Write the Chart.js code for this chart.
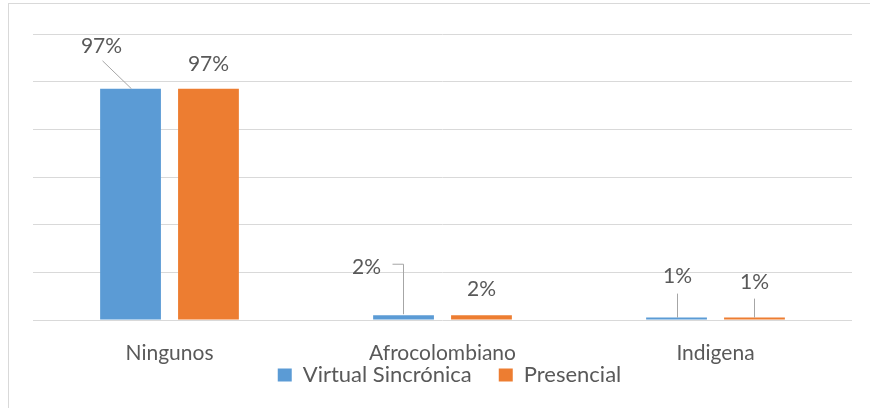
<!DOCTYPE html>
<html>
<head>
<meta charset="utf-8">
<script src="https://cdn.jsdelivr.net/npm/chart.js@4.4.0/dist/chart.umd.min.js"></script>
<style>
  body { margin: 0; background: #fff; }
  #wrap { position: relative; width: 870px; height: 408px; overflow: hidden; }
  #frame { position: absolute; left: 8px; top: 3px; width: 880px; height: 420px; border: 1px solid #d9d9d9; box-sizing: border-box; }
  #c { position: absolute; left: 0; top: 0; }
</style>
</head>
<body>
<div id="wrap">
  <div id="frame"></div>
  <canvas id="c" width="870" height="408"></canvas>
</div>
<script>
const categories = ['Ningunos', 'Afrocolombiano', 'Indigena'];
const virtualValues = [0.97, 0.02, 0.01];
const presencialValues = [0.97, 0.02, 0.01];
const valueLabels = [['97%', '2%', '1%'], ['97%', '2%', '1%']];

// where Excel put each label, relative to the bar top, plus leader line points
const labelSpots = [
  [
    { dx: -29, dy: -43, line: [[-29, -28], [0, 0]] },
    { dx: -37, dy: -48, line: [[-12, -51], [-1, -51], [-1, -1]] },
    { dx: 1, dy: -41, line: [[0, -24], [0, 0]] }
  ],
  [
    { dx: 0, dy: -25 },
    { dx: 0, dy: -26 },
    { dx: 0, dy: -35, line: [[0, -19], [0, 0]] }
  ]
];

const fontFamily = 'Lato, "Open Sans", sans-serif';
const textColor = '#595959';

const barLabels = {
  id: 'barLabels',
  afterDatasetsDraw(chart) {
    const ctx = chart.ctx;
    ctx.save();
    chart.data.datasets.forEach((ds, i) => {
      chart.getDatasetMeta(i).data.forEach((bar, j) => {
        const spot = labelSpots[i][j];
        if (spot.line) {
          ctx.strokeStyle = '#a6a6a6';
          ctx.lineWidth = 1;
          ctx.beginPath();
          spot.line.forEach((p, k) => {
            const px = Math.round(bar.x + p[0]) + 0.5;
            const py = bar.y + p[1];
            if (k === 0) ctx.moveTo(px, py); else ctx.lineTo(px, py);
          });
          ctx.stroke();
        }
        ctx.fillStyle = textColor;
        ctx.font = '21px ' + fontFamily;
        ctx.textAlign = 'center';
        ctx.textBaseline = 'middle';
        ctx.fillText(valueLabels[i][j], bar.x + spot.dx, bar.y + spot.dy);
      });
    });
    ctx.restore();
  }
};

// legend sits tight under the axis labels in the original, pull its top up
const legendNudge = {
  id: 'legendNudge',
  afterLayout(chart) {
    const lg = chart.legend;
    lg.top -= 31;
    lg.left += 7;
    lg.right += 7;
  }
};

new Chart(document.getElementById('c'), {
  type: 'bar',
  data: {
    labels: categories,
    datasets: [
      {
        label: 'Virtual Sincrónica',
        data: virtualValues,
        backgroundColor: '#5b9bd5',
        categoryPercentage: 0.571,
        barPercentage: 0.78
      },
      {
        label: 'Presencial',
        data: presencialValues,
        backgroundColor: '#ed7d31',
        categoryPercentage: 0.571,
        barPercentage: 0.78
      }
    ]
  },
  options: {
    responsive: false,
    animation: false,
    layout: { padding: { left: 33, right: 18, top: 34, bottom: 0 } },
    plugins: {
      legend: {
        position: 'bottom',
        maxHeight: 40,
        labels: {
          boxWidth: 14,
          boxHeight: 13,
          padding: 27,
          color: textColor,
          font: { family: fontFamily, size: 22 }
        }
      },
      tooltip: { enabled: false }
    },
    scales: {
      x: {
        grid: { display: false, drawTicks: false },
        border: { display: false },
        ticks: { color: textColor, padding: 21, font: { family: fontFamily, size: 21 } },
        afterFit(scale) { scale.height = 48; }
      },
      y: {
        min: 0,
        max: 1.2,
        ticks: { display: false, stepSize: 0.2 },
        grid: { color: '#d9d9d9', lineWidth: 1, drawTicks: false },
        border: { display: false },
        afterFit(scale) { scale.width = 0; }
      }
    }
  },
  plugins: [barLabels, legendNudge]
});
</script>
</body>
</html>
